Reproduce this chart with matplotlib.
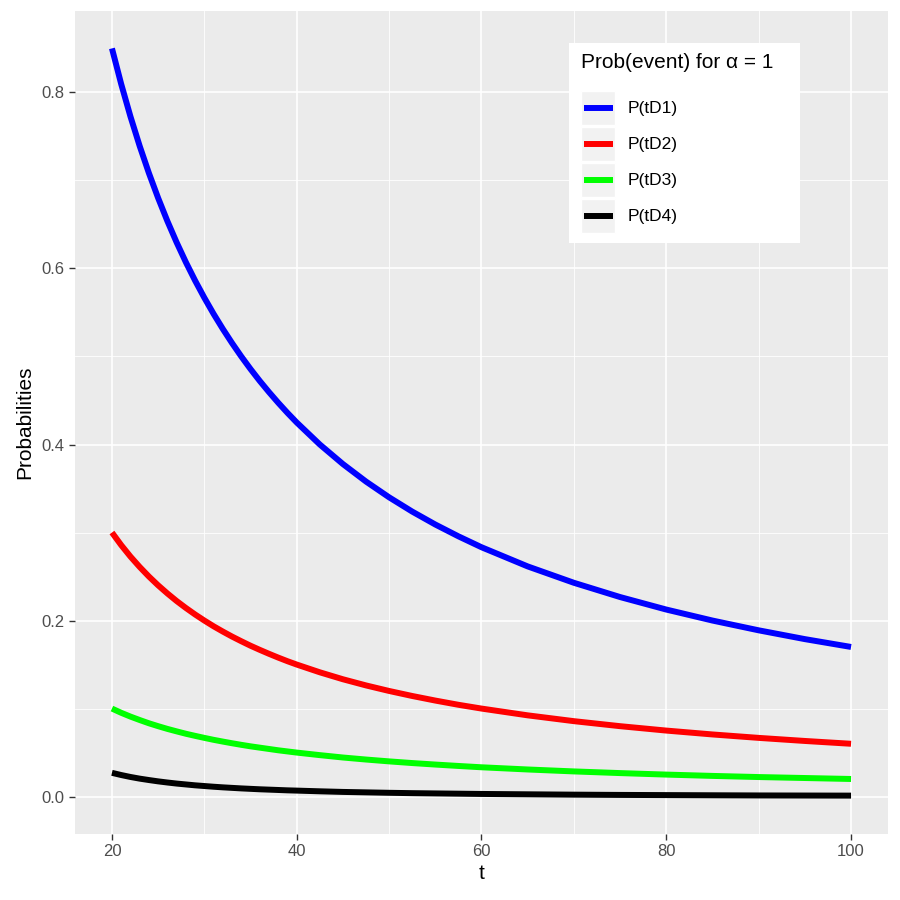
import matplotlib
matplotlib.use("Agg")
import matplotlib.pyplot as plt
from matplotlib.patches import Rectangle
from matplotlib.lines import Line2D

plt.rcParams["font.family"] = ["Liberation Sans", "DejaVu Sans"]

# -- values
t = [20, 21, 22, 23, 24, 25, 26, 27, 28, 29, 30, 31, 32, 33, 34, 35, 36,
     37, 38, 39, 40, 42.5, 45, 47.5, 50, 52.5, 55, 57.5, 60, 65, 70, 75,
     80, 85, 90, 95, 100]
p_d1 = [0.8500, 0.8095, 0.7727, 0.7391, 0.7083, 0.6800, 0.6538, 0.6296,
        0.6071, 0.5862, 0.5667, 0.5484, 0.5313, 0.5152, 0.5000, 0.4857,
        0.4722, 0.4595, 0.4474, 0.4359, 0.4250, 0.4000, 0.3778, 0.3579,
        0.3400, 0.3238, 0.3091, 0.2957, 0.2833, 0.2615, 0.2429, 0.2267,
        0.2125, 0.2000, 0.1889, 0.1789, 0.1700]
p_d2 = [0.3000, 0.2857, 0.2727, 0.2609, 0.2500, 0.2400, 0.2308, 0.2222,
        0.2143, 0.2069, 0.2000, 0.1935, 0.1875, 0.1818, 0.1765, 0.1714,
        0.1667, 0.1622, 0.1579, 0.1538, 0.1500, 0.1412, 0.1333, 0.1263,
        0.1200, 0.1143, 0.1091, 0.1043, 0.1000, 0.0923, 0.0857, 0.0800,
        0.0750, 0.0706, 0.0667, 0.0632, 0.0600]
p_d3 = [0.1000, 0.0952, 0.0909, 0.0870, 0.0833, 0.0800, 0.0769, 0.0741,
        0.0714, 0.0690, 0.0667, 0.0645, 0.0625, 0.0606, 0.0588, 0.0571,
        0.0556, 0.0541, 0.0526, 0.0513, 0.0500, 0.0471, 0.0444, 0.0421,
        0.0400, 0.0381, 0.0364, 0.0348, 0.0333, 0.0308, 0.0286, 0.0267,
        0.0250, 0.0235, 0.0222, 0.0211, 0.0200]
p_d4 = [0.0270, 0.0245, 0.0223, 0.0204, 0.0188, 0.0173, 0.0160, 0.0148,
        0.0138, 0.0128, 0.0120, 0.0112, 0.0105, 0.0099, 0.0093, 0.0088,
        0.0083, 0.0079, 0.0075, 0.0071, 0.0068, 0.0060, 0.0053, 0.0048,
        0.0043, 0.0039, 0.0036, 0.0033, 0.0030, 0.0026, 0.0022, 0.0019,
        0.0017, 0.0015, 0.0013, 0.0012, 0.0011]
labels = ["P(tD1)", "P(tD2)", "P(tD3)", "P(tD4)"]
colors = ["#0000FF", "#FF0000", "#00FF00", "#000000"]
xticks = [20, 40, 60, 80, 100]
yticks = [0.0, 0.2, 0.4, 0.6, 0.8]

W = 900.0
fig = plt.figure(figsize=(9, 9), dpi=100, facecolor="white")
ax = fig.add_axes([75 / W, (900 - 834) / W, (888 - 75) / W, (834 - 11) / W])
ax.set_facecolor("#EBEBEB")

# -- grid
for x in [30, 50, 70, 90]:
    ax.axvline(x, color="white", lw=0.6, zorder=0)
for y in [0.1, 0.3, 0.5, 0.7]:
    ax.axhline(y, color="white", lw=0.6, zorder=0)
for x in xticks:
    ax.axvline(x, color="white", lw=1.2, zorder=0)
for y in yticks:
    ax.axhline(y, color="white", lw=1.2, zorder=0)

for ys, c in zip([p_d1, p_d2, p_d3, p_d4], colors):
    ax.plot(t, ys, color=c, lw=4.3, solid_capstyle="butt",
            solid_joinstyle="round", zorder=3)

ax.set_xlim(16, 104)
ax.set_ylim(-0.0425, 0.8925)
ax.set_xticks(xticks)
ax.set_yticks(yticks)
ax.set_yticklabels(["0.0", "0.2", "0.4", "0.6", "0.8"])
ax.tick_params(colors="#333333", labelcolor="#4D4D4D", labelsize=12,
               length=4, width=1)
for s in ax.spines.values():
    s.set_visible(False)
ax.set_xlabel("t", fontsize=15, labelpad=3)
ax.set_ylabel("Probabilities", fontsize=15, labelpad=5)

# -- legend (drawn by hand, ggplot style)
tf = fig.transFigure
def fx(px):
    return px / W
def fy(py):
    return 1 - py / W

fig.patches.append(Rectangle((fx(569), fy(243)), (800 - 569) / W, 200 / W,
                             transform=tf, facecolor="white",
                             edgecolor="none", zorder=5))
fig.text(fx(581), fy(63), "Prob(event) for \u03b1 = 1", fontsize=15,
         ha="left", va="center", zorder=6)
for i, (lab, c) in enumerate(zip(labels, colors)):
    top = 91 + i * 36
    fig.patches.append(Rectangle((fx(581), fy(top + 34)), 34 / W, 34 / W,
                                 transform=tf, facecolor="#F2F2F2",
                                 edgecolor="white", lw=1, zorder=6))
    yc = fy(top + 17)
    fig.lines.append(Line2D([fx(584), fx(613)], [yc, yc], transform=tf,
                            color=c, lw=4.3, solid_capstyle="butt",
                            zorder=7))
    fig.text(fx(628), yc, lab, fontsize=12.5, ha="left", va="center",
             zorder=7)

fig.savefig("out.png", dpi=100)
